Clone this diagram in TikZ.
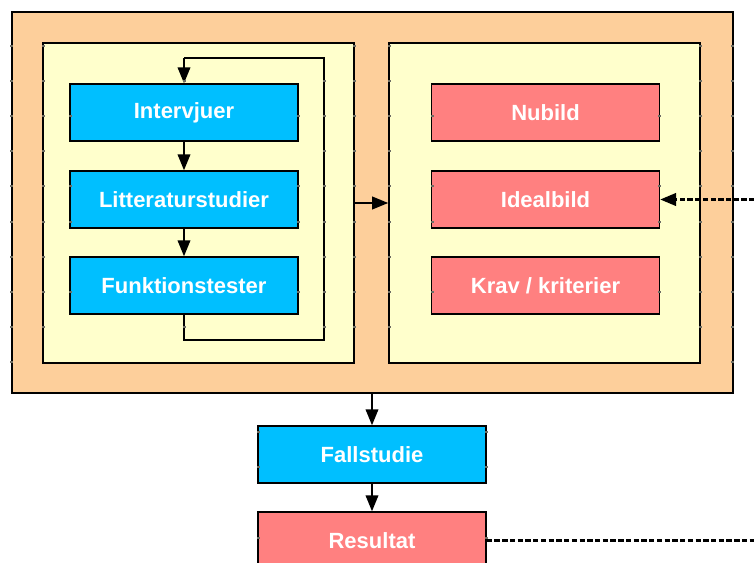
\documentclass[tikz,border=0pt]{standalone}
\usepackage{fontspec}
\setmainfont{Liberation Sans}
\usetikzlibrary{arrows.meta}
\definecolor{frameorange}{RGB}{253,207,155}
\definecolor{panelyellow}{RGB}{255,255,204}
\definecolor{methodblue}{RGB}{0,191,255}
\definecolor{resultred}{RGB}{255,128,128}
\definecolor{tickgray}{RGB}{110,110,100}
\tikzset{
  box/.style={draw=black, line width=1.1pt, minimum width=228*0.75pt,
    minimum height=57*0.75pt, inner sep=0pt, text=white,
    font=\fontsize{16.5}{18}\selectfont\bfseries},
  method/.style={box, fill=methodblue},
  outcome/.style={box, fill=resultred},
  panel/.style={draw=black, line width=1.2pt, fill=panelyellow,
    minimum width=311*0.75pt, minimum height=320*0.75pt, inner sep=0pt},
  tip/.style={-{Triangle[length=12pt,width=9.5pt]}},
  link/.style={line width=1.3pt, tip},
  dashlink/.style={line width=1.8pt, dash pattern=on 4pt off 1.8pt},
}
\begin{document}
\begin{tikzpicture}[x=0.75pt, y=-0.75pt]
  \useasboundingbox (0,0) rectangle (754,563);
  \clip (0,0) rectangle (754,563);

  % outer frame and the two panels
  \node[draw, line width=1.5pt, fill=frameorange, minimum width=721*0.75pt,
        minimum height=381*0.75pt, inner sep=0pt] (outer) at (372,202.5) {};
  \node[panel] (lp) at (198.5,203) {};
  \node[panel] (rp) at (544.5,203) {};

  % methods
  \node[method] (interv) at (184,112.5) {Intervjuer};
  \node[method] (litt)   at (184,199.5) {Litteraturstudier};
  \node[method] (funk)   at (184,285.5) {Funktionstester};

  % pictures and requirements
  \node[outcome] (nubild) at (545.5,112.5) {Nubild};
  \node[outcome] (ideal)  at (545.5,199.5) {Idealbild};
  \node[outcome] (krav)   at (545.5,285.5) {Krav / kriterier};

  % case study and result
  \node[method]  (fall) at (372,454.5) {Fallstudie};
  \node[outcome] (res)  at (372,540.5) {Resultat};

  % iteration loop around the methods
  \coordinate (lbl) at (184,340);
  \coordinate (lbr) at (324,340);
  \coordinate (ltr) at (324,58);
  \coordinate (ltl) at (184,58);
  \draw[line width=1.1pt] (funk.south) -- (lbl) -- (lbr) -- (ltr) -- (ltl);
  \draw[link] (ltl) -- (interv.north);
  \draw[link] (interv.south) -- (litt.north);
  \draw[link] (litt.south) -- (funk.north);

  % flow between panels and down to the case study
  \draw[link] (lp.east) -- (rp.west);
  \draw[link] (outer.south) -- (fall.north);
  \draw[link] (fall.south) -- (res.north);

  % feedback from the result to the ideal picture
  \coordinate (fbtop) at (770,199.5);
  \coordinate (fbbot) at (770,540.5);
  \draw[dashlink, tip] (fbtop) -- (ideal.east);
  \draw[dashlink] (res.east) -- (fbbot);

  % connection-point marks along the vertical edges
  \foreach \ex/\ya/\yb in {11.5/12/393, 732.5/12/393,
      43/43/363, 354/43/363, 389/43/363, 700/43/363,
      70/84/141, 298/84/141, 70/172/228, 298/172/228, 70/257/314, 298/257/314,
      432/84/141, 659/84/141, 432/172/228, 659/172/228, 432/257/314, 659/257/314,
      258/426/483, 486/426/483, 258/512/563, 486/512/563,
      324/58/340, 184/314/340, 184/58/84} {
    \foreach \k in {0,...,16} {
      \pgfmathsetmacro{\yy}{11+35.1*\k}
      \pgfmathparse{and(\yy>\ya+1,\yy<\yb-1) ? 1 : 0}
      \ifnum\pgfmathresult=1
        \fill[tickgray] (\ex-1.5,\yy-1) rectangle (\ex+1.5,\yy+1);
      \fi
    }
  }
\end{tikzpicture}
\end{document}
